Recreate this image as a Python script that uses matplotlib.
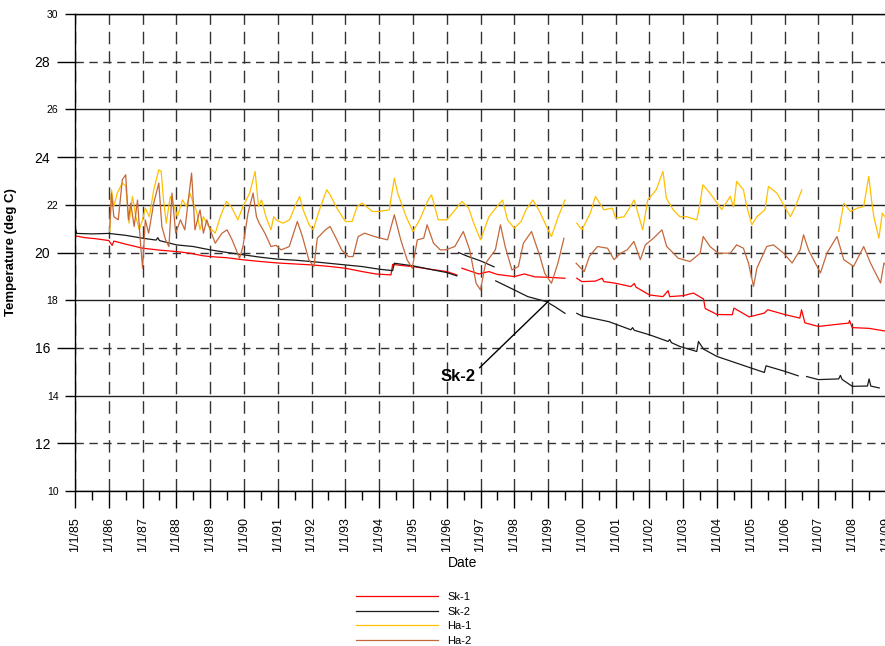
import numpy as np
import matplotlib
matplotlib.use("Agg")
import matplotlib.pyplot as plt

plt.rcParams['font.family'] = ['Liberation Sans', 'DejaVu Sans']

nan = np.nan

# ---------------- data (decimal years, deg C) ----------------
sk1_years = [1985.0, 1985.3, 1985.6, 1986.0, 1986.1, 1986.15, 1986.5, 1987.0, 1987.5, 1988.0,
             1988.4, 1988.8, 1989.0, 1989.5, 1990.0, 1990.5, 1991.0, 1991.5, 1992.0, 1992.5,
             1993.0, 1993.5, 1993.9, 1994.35, 1994.4, 1994.7, 1995.0, 1995.5, 1996.0, 1996.3,
             1996.38, 1996.45, 1996.7, 1996.95, 1997.25, 1997.5, 1998.0, 1998.3, 1998.6, 1999.0,
             1999.5, 1999.7, 1999.85, 2000.0, 2000.4, 2000.6, 2000.65, 2001.0, 2001.45, 2001.55,
             2001.6, 2002.0, 2002.4, 2002.55, 2002.6, 2003.0, 2003.3, 2003.6, 2003.65, 2004.0,
             2004.45, 2004.5, 2004.95, 2005.4, 2005.5, 2006.0, 2006.45, 2006.5, 2006.6, 2007.0,
             2007.5, 2007.9, 2007.92, 2008.0, 2008.5, 2009.0]
sk1_temp = [20.70, 20.62, 20.58, 20.50, 20.30, 20.48, 20.35, 20.18, 20.10, 20.04,
            19.97, 19.86, 19.83, 19.78, 19.69, 19.62, 19.56, 19.52, 19.48, 19.42,
            19.34, 19.20, 19.10, 19.06, 19.50, 19.45, 19.41, 19.30, 19.20, 19.06,
            nan, 19.34, 19.22, 19.10, 19.20, 19.08, 18.99, 19.10, 18.98, 18.96,
            18.92, nan, 18.92, 18.78, 18.80, 18.92, 18.78, 18.71, 18.57, 18.70,
            18.55, 18.22, 18.15, 18.40, 18.15, 18.19, 18.30, 18.05, 17.65, 17.40,
            17.39, 17.67, 17.30, 17.46, 17.60, 17.40, 17.25, 17.60, 17.05, 16.90,
            16.98, 17.04, 17.15, 16.85, 16.82, 16.70]

sk2_years = [1985.0, 1985.05, 1985.5, 1986.0, 1986.5, 1987.0, 1987.4, 1987.45, 1987.5, 1988.0,
             1988.5, 1989.0, 1989.5, 1990.0, 1990.5, 1991.0, 1991.5, 1992.0, 1992.5, 1993.0,
             1993.5, 1994.0, 1994.4, 1994.45, 1995.0, 1995.6, 1996.0, 1996.3, 1996.32, 1996.35,
             1996.6, 1997.0, 1997.4, 1997.42, 1997.45, 1998.0, 1998.4, 1998.95, 1999.2, 1999.5,
             1999.7, 1999.85, 2000.0, 2000.8, 2001.45, 2001.5, 2001.55, 2002.0, 2002.55, 2002.6,
             2002.65, 2002.9, 2003.4, 2003.45, 2003.6, 2004.0, 2004.5, 2005.0, 2005.4, 2005.45,
             2006.0, 2006.4, 2006.5, 2006.65, 2007.0, 2007.6, 2007.65, 2007.7, 2008.0, 2008.45,
             2008.5, 2008.55, 2008.8]
sk2_temp = [21.05, 20.80, 20.78, 20.80, 20.72, 20.60, 20.52, 20.62, 20.50, 20.32,
            20.25, 20.11, 20.00, 19.90, 19.80, 19.72, 19.68, 19.62, 19.55, 19.48,
            19.41, 19.30, 19.24, 19.55, 19.44, 19.27, 19.16, 19.02, nan, 20.00,
            19.85, 19.65, 19.40, nan, 18.81, 18.43, 18.15, 17.94, 17.73, 17.45,
            nan, 17.45, 17.34, 17.10, 16.76, 16.85, 16.74, 16.55, 16.27, 16.35,
            16.22, 16.06, 15.85, 16.27, 15.95, 15.64, 15.40, 15.16, 14.97, 15.25,
            15.02, 14.83, nan, 14.80, 14.67, 14.70, 14.85, 14.68, 14.39, 14.40,
            14.70, 14.40, 14.32]

ha1_years = [1986.03, 1986.08, 1986.15, 1986.25, 1986.4, 1986.5, 1986.6, 1986.7, 1986.8, 1986.9,
             1987.0, 1987.08, 1987.2, 1987.33, 1987.48, 1987.55, 1987.62, 1987.7, 1987.82, 1987.92,
             1988.03, 1988.18, 1988.3, 1988.4, 1988.5, 1988.6, 1988.7, 1988.8, 1988.95, 1989.15,
             1989.3, 1989.48, 1989.62, 1989.82, 1989.97, 1990.17, 1990.33, 1990.43, 1990.52, 1990.65,
             1990.8, 1990.88, 1990.95, 1991.15, 1991.35, 1991.55, 1991.65, 1991.75, 1991.93, 1992.05,
             1992.2, 1992.45, 1992.55, 1992.75, 1993.0, 1993.2, 1993.35, 1993.5, 1993.8, 1994.0,
             1994.3, 1994.45, 1994.55, 1994.8, 1995.0, 1995.2, 1995.45, 1995.55, 1995.75, 1996.0,
             1996.25, 1996.45, 1996.65, 1996.8, 1997.0, 1997.25, 1997.45, 1997.65, 1997.8, 1998.0,
             1998.2, 1998.35, 1998.55, 1998.75, 1999.0, 1999.1, 1999.3, 1999.5, 1999.6, 1999.85,
             2000.0, 2000.25, 2000.4, 2000.65, 2000.9, 2001.0, 2001.25, 2001.55, 2001.8, 2001.95,
             2002.2, 2002.4, 2002.5, 2002.7, 2002.9, 2003.1, 2003.4, 2003.5, 2003.58, 2003.79,
             2004.04, 2004.14, 2004.39, 2004.49, 2004.58, 2004.78, 2004.88, 2005.03, 2005.18, 2005.42,
             2005.52, 2005.77, 2005.97, 2006.17, 2006.31, 2006.51, 2006.8, 2007.6, 2007.75, 2007.95,
             2008.15, 2008.34, 2008.49, 2008.59, 2008.64, 2008.79, 2008.89, 2009.04]
ha1_temp = [20.88, 22.63, 21.93, 22.49, 22.91, 22.80, 21.23, 22.35, 21.50, 20.95,
            21.37, 21.86, 21.50, 22.63, 23.47, 23.40, 22.20, 21.23, 22.35, 22.00,
            21.50, 22.20, 21.93, 22.49, 22.07, 21.72, 20.95, 21.50, 21.09, 20.81,
            21.50, 22.14, 21.93, 21.37, 21.93, 22.49, 23.40, 21.93, 22.20, 21.50,
            20.95, 21.50, 21.37, 21.23, 21.37, 22.07, 22.35, 21.79, 21.16, 20.95,
            21.65, 22.63, 22.42, 21.86, 21.30, 21.30, 21.93, 22.07, 21.72, 21.72,
            21.79, 23.12, 22.49, 21.50, 20.88, 21.37, 22.20, 22.42, 21.37, 21.37,
            21.79, 22.14, 21.86, 21.23, 20.53, 21.50, 21.86, 22.20, 21.37, 21.02,
            21.30, 21.80, 22.20, 21.72, 20.95, 20.67, 21.50, 22.20, nan, 21.23,
            20.95, 21.65, 22.35, 21.79, 21.86, 21.44, 21.50, 22.20, 20.95, 22.20,
            22.63, 23.40, 22.28, 21.79, 21.50, 21.50, 21.37, 22.07, 22.84, 22.49,
            22.00, 21.80, 22.35, 21.90, 22.98, 22.63, 21.93, 21.16, 21.50, 21.80,
            22.77, 22.49, 22.00, 21.50, 21.90, 22.63, nan, 20.88, 22.07, 21.72,
            21.86, 21.93, 23.19, 22.00, 21.50, 20.60, 21.65, 21.37]

ha2_years = [1986.03, 1986.08, 1986.15, 1986.28, 1986.4, 1986.5, 1986.58, 1986.65, 1986.75, 1986.85,
             1986.93, 1987.0, 1987.08, 1987.18, 1987.33, 1987.48, 1987.57, 1987.68, 1987.78, 1987.87,
             1987.98, 1988.12, 1988.25, 1988.45, 1988.55, 1988.7, 1988.8, 1988.9, 1989.0, 1989.15,
             1989.35, 1989.5, 1989.65, 1989.87, 1989.97, 1990.12, 1990.27, 1990.37, 1990.45, 1990.62,
             1990.8, 1990.95, 1991.1, 1991.34, 1991.58, 1991.73, 1991.92, 1992.07, 1992.17, 1992.41,
             1992.55, 1992.75, 1992.89, 1993.09, 1993.23, 1993.38, 1993.57, 1993.86, 1994.25, 1994.45,
             1994.64, 1994.83, 1994.98, 1995.13, 1995.32, 1995.42, 1995.61, 1995.81, 1995.97, 1996.24,
             1996.49, 1996.68, 1996.87, 1997.0, 1997.15, 1997.44, 1997.59, 1997.73, 1997.93, 1998.12,
             1998.27, 1998.51, 1998.76, 1998.9, 1999.1, 1999.29, 1999.47, 1999.6, 1999.83, 2000.07,
             2000.22, 2000.46, 2000.76, 2000.95, 2001.15, 2001.34, 2001.54, 2001.73, 2001.88, 2002.12,
             2002.37, 2002.51, 2002.71, 2002.85, 2003.2, 2003.5, 2003.59, 2003.79, 2004.04, 2004.39,
             2004.58, 2004.78, 2004.93, 2005.08, 2005.18, 2005.47, 2005.67, 2005.97, 2006.22, 2006.46,
             2006.56, 2006.71, 2007.06, 2007.25, 2007.55, 2007.75, 2008.04, 2008.34, 2008.54, 2008.84,
             2008.94, 2009.04]
ha2_temp = [21.09, 22.49, 21.50, 21.37, 23.05, 23.26, 21.37, 22.07, 21.09, 22.20,
            20.53, 19.34, 21.37, 20.81, 22.07, 22.91, 21.09, 20.53, 20.25, 22.49,
            20.81, 21.37, 20.95, 23.33, 20.95, 21.79, 20.81, 21.37, 20.95, 20.39,
            20.81, 20.95, 20.53, 19.76, 20.25, 21.65, 22.49, 21.50, 21.23, 20.81,
            20.25, 20.30, 20.11, 20.25, 21.30, 20.67, 19.69, 19.41, 20.60, 20.95,
            21.09, 20.53, 20.11, 19.83, 19.83, 20.67, 20.81, 20.67, 20.53, 21.58,
            20.53, 19.69, 19.34, 20.53, 20.60, 21.16, 20.39, 20.11, 20.11, 20.25,
            20.88, 20.11, 18.71, 18.43, 19.55, 20.11, 21.16, 20.25, 19.27, 19.41,
            20.39, 20.88, 19.83, 19.13, 18.71, 19.55, 20.60, nan, 19.55, 19.20,
            19.83, 20.25, 20.18, 19.70, 19.97, 20.11, 20.46, 19.70, 20.32, 20.60,
            20.95, 20.25, 19.97, 19.76, 19.62, 19.97, 20.67, 20.25, 19.97, 19.97,
            20.32, 20.18, 19.56, 18.58, 19.35, 20.25, 20.32, 19.97, 19.56, 20.11,
            20.74, 20.10, 19.14, 19.97, 20.67, 19.70, 19.42, 20.25, 19.56, 18.72,
            19.56, 19.40]

series_names = ['Sk-1', 'Sk-2', 'Ha-1', 'Ha-2']
series_colors = ['#ff0000', '#1a1a1a', '#ffc000', '#c4683c']

tick_years = list(range(1985, 2010))
tick_labels = ['1/1/%02d' % (y % 100) for y in tick_years]
y_major = [10, 14, 18, 22, 26, 30]
y_minor = [12, 16, 20, 24, 28]

# ---------------- figure ----------------
fig = plt.figure(figsize=(8.85, 6.46), dpi=100)
ax = fig.add_axes([75 / 885, 155 / 646, 811 / 885, 477 / 646])

data = [(sk1_years, sk1_temp), (sk2_years, sk2_temp), (ha1_years, ha1_temp), (ha2_years, ha2_temp)]
for (xs, ys), name, col in zip(data, series_names, series_colors):
    ax.plot(xs, ys, color=col, lw=0.9, label=name)

ax.set_xlim(1985, 2009)
ax.set_ylim(10, 30)

ax.set_xticks(tick_years, tick_labels, rotation=90)
ax.set_xticks([y + 0.5 for y in tick_years[:-1]], minor=True)
ax.set_yticks(y_major, [str(v) for v in y_major])
ax.set_yticks(y_minor, [str(v) for v in y_minor], minor=True)

ax.tick_params(axis='x', which='major', length=12.5, width=1, pad=6.5, labelsize=9, direction='out')
ax.tick_params(axis='x', which='minor', length=6.5, width=1, direction='out')
ax.tick_params(axis='y', which='major', length=7, width=1, pad=5, labelsize=7.5, direction='out')
ax.tick_params(axis='y', which='minor', length=13, width=1, pad=5, labelsize=10, direction='out')

ax.grid(axis='y', which='major', color='#222222', lw=1.0, ls='-')
ax.grid(axis='y', which='minor', color='#333333', lw=1.0, ls=(0, (6, 4)))
ax.grid(axis='x', which='major', color='#333333', lw=1.0, ls=(0, (9, 5)))
ax.set_axisbelow(True)

for s in ['left', 'bottom', 'top']:
    ax.spines[s].set_color('black')
    ax.spines[s].set_linewidth(1.0)
ax.spines['right'].set_visible(False)

ax.set_ylabel('Temperature (deg C)', fontsize=9.5, fontweight='bold')
ax.yaxis.set_label_coords(-0.0716, 0.5)
ax.set_xlabel('Date', fontsize=10)
ax.xaxis.set_label_coords((463 - 75) / 811, -(563 - 491) / 477)
ax.xaxis.label.set_va('center')

ax.annotate('Sk-2', xy=(1999.04, 18.0), xytext=(1996.34, 14.82),
            ha='center', va='center', fontsize=12, fontweight='bold',
            arrowprops=dict(arrowstyle='-', color='black', lw=1.0,
                            shrinkA=1, shrinkB=0, relpos=(1.0, 0.8)))

fig.legend(loc='upper left', bbox_to_anchor=(356 / 885, 1 - 592 / 646), frameon=False,
           fontsize=8, handlelength=7.4, handletextpad=0.8, labelspacing=0.42,
           borderpad=0, borderaxespad=0)

fig.savefig('out.png', dpi=100)
